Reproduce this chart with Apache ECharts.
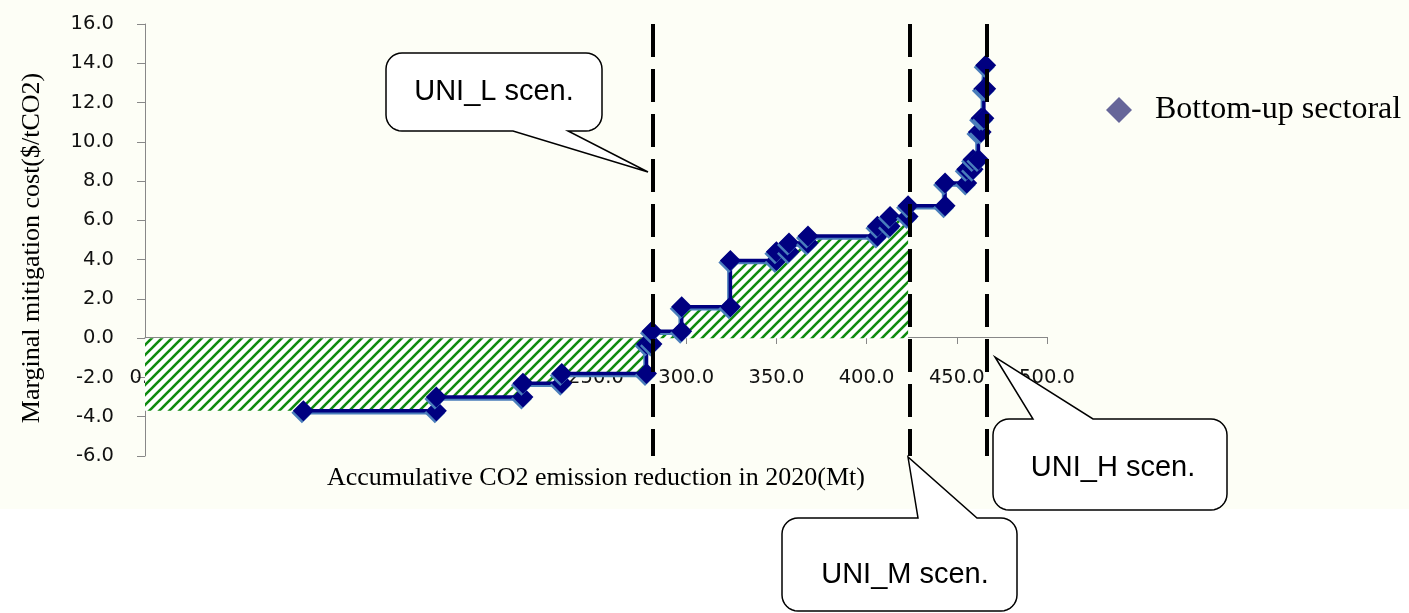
<!DOCTYPE html>
<html>
<head>
<meta charset="utf-8">
<script src="https://cdn.jsdelivr.net/npm/echarts@6/dist/echarts.min.js"></script>
<style>
html,body{margin:0;padding:0;background:#fff;}
#chart{width:1409px;height:613px;}
</style>
</head>
<body>
<div id="chart"></div>
<script>
// ---- data ----
const seriesName = 'Bottom-up sectoral';
// step curve vertices: [accumulative reduction (Mt), marginal cost ($/tCO2)]
const curvePoints = [
  [87.8,-3.7],[161.5,-3.7],[161.5,-3.0],[209.5,-3.0],[209.5,-2.3],[231,-2.3],
  [231,-1.8],[278,-1.8],[278,-0.3],[281,-0.3],[281,0.35],[297.5,0.35],
  [297.5,1.6],[324.5,1.6],[324.5,3.95],[350,3.95],[350,4.4],[357,4.4],
  [357,4.85],[367.5,4.85],[367.5,5.2],[406,5.2],[406,5.7],[413,5.7],
  [413,6.2],[423,6.2],[423,6.75],[443.5,6.75],[443.5,7.9],[455.5,7.9],
  [455.5,8.6],[459,8.6],[459,9.1],[462,9.1],[462,10.5],[463.5,10.5],
  [463.5,11.2],[465,11.2],[465,12.7],[466,12.7],[466,13.9]
];
// shaded (hatched) region: from the axis start up to the UNI_M scenario
const hatchStart = [[0,-3.7]];
const hatchCount = 26; // curve vertices up to x = 423
const scenarioNames = ['UNI_L scen.','UNI_M scen.','UNI_H scen.'];
const scenarioX = [281.2, 424.1, 466.8];
const scenarioYRange = [16, -6];
const xTicks = {min:0, max:500, interval:50};
const yTicks = {min:-6, max:16, interval:2};

// ---- hatch pattern ----
function makeHatch(){
  const c = document.createElement('canvas');
  c.width = 10; c.height = 10;
  const g = c.getContext('2d');
  g.fillStyle = '#ffffff'; g.fillRect(0,0,10,10);
  g.strokeStyle = '#0f8a0f'; g.lineWidth = 2.6;
  [[-10,10,10,-10],[0,10,10,0],[0,20,20,0]].forEach(function(l){
    g.beginPath(); g.moveTo(l[0],l[1]); g.lineTo(l[2],l[3]); g.stroke();
  });
  return c;
}

// outline of a rounded-rectangle speech bubble as a polygon
function arcPts(cx,cy,r,a0,a1){
  const pts=[]; const n=8;
  for(let i=0;i<=n;i++){ const a=a0+(a1-a0)*i/n; pts.push([cx+r*Math.cos(a), cy+r*Math.sin(a)]); }
  return pts;
}
function calloutPoints(x,y,w,h,r,side,b1,b2,tx,ty){
  const R=x+w, B=y+h, P=Math.PI; let pts=[];
  pts = pts.concat(arcPts(x+r,y+r,r,P,1.5*P));
  if(side==='top'){ pts.push([b1,y],[tx,ty],[b2,y]); }
  pts = pts.concat(arcPts(R-r,y+r,r,1.5*P,2*P));
  pts = pts.concat(arcPts(R-r,B-r,r,0,0.5*P));
  if(side==='bottom'){ pts.push([b2,B],[tx,ty],[b1,B]); }
  pts = pts.concat(arcPts(x+r,B-r,r,0.5*P,P));
  return pts;
}

const callouts = [
  {text: scenarioNames[0], pts: calloutPoints(386,53,216,78,16,'bottom',513,568,648,172), tx:494, ty:92},
  {text: scenarioNames[1], pts: calloutPoints(782,518,235,93,16,'top',918,977,908,457), tx:905, ty:575},
  {text: scenarioNames[2], pts: calloutPoints(993,419,234,91,16,'top',1033,1093,995,357), tx:1113, ty:468}
];

const graphics = [];
callouts.forEach(function(c){
  graphics.push({type:'polygon', z:100, shape:{points:c.pts},
    style:{fill:'#ffffff', stroke:'#000000', lineWidth:1.5}});
  graphics.push({type:'text', z:101, x:c.tx, y:c.ty,
    style:{text:c.text, fill:'#000', font:'29px "Liberation Sans", Arial, sans-serif', align:'center', verticalAlign:'middle'}});
});

const chart = echarts.init(document.getElementById('chart'), null, {renderer:'canvas'});
const cream = '#fdfef6';
const option = {
  animation:false,
  backgroundColor:{type:'linear',x:0,y:0,x2:0,y2:1,colorStops:[
    {offset:0,color:cream},{offset:509/613,color:cream},
    {offset:509/613,color:'#ffffff'},{offset:1,color:'#ffffff'}]},
  grid:{left:145, right:362, top:24, bottom:157, containLabel:false, outerBoundsMode:'none'},
  legend:{
    show:true, left:1101, top:89, orient:'vertical',
    itemWidth:26, itemHeight:26,
    data:[{name:seriesName, icon:'diamond', itemStyle:{color:'#666699', shadowBlur:0, shadowOffsetX:0, shadowOffsetY:0}}],
    textStyle:{fontFamily:'"Liberation Serif", "Times New Roman", serif', fontSize:32, color:'#000', padding:[0,0,0,18]}
  },
  xAxis:{
    type:'value', min:xTicks.min, max:xTicks.max, interval:xTicks.interval,
    offset:-119,
    name:'Accumulative CO2 emission reduction in 2020(Mt)', nameLocation:'middle', nameGap:128,
    nameTextStyle:{fontFamily:'"Liberation Serif", "Times New Roman", serif', fontSize:26, color:'#000'},
    axisLine:{show:true, onZero:false, lineStyle:{color:'#888', width:1}},
    axisTick:{show:true, length:7, lineStyle:{color:'#888'}},
    axisLabel:{margin:31, fontFamily:'"DejaVu Sans", sans-serif', fontSize:19.5, color:'#111',
      showMinLabel:true, showMaxLabel:true, formatter:function(v){return v.toFixed(1);}},
    splitLine:{show:false}
  },
  yAxis:{
    type:'value', min:yTicks.min, max:yTicks.max, interval:yTicks.interval,
    name:'Marginal mitigation cost($/tCO2)', nameLocation:'middle', nameGap:100,
    nameTextStyle:{fontFamily:'"Liberation Serif", "Times New Roman", serif', fontSize:26, color:'#000', padding:[0,16,0,0]},
    axisLine:{show:true, onZero:false, lineStyle:{color:'#888', width:1}},
    axisTick:{show:true, length:8, lineStyle:{color:'#888'}},
    axisLabel:{margin:31, fontFamily:'"DejaVu Sans", sans-serif', fontSize:19.5, color:'#111',
      formatter:function(v){return v.toFixed(1);}},
    splitLine:{show:false}
  },
  series:[
    {
      name:'hatch', type:'line', z:1, silent:true,
      data: hatchStart.concat(curvePoints.slice(0, hatchCount)),
      showSymbol:false, symbol:'none',
      lineStyle:{width:0, opacity:0},
      areaStyle:{color:{image:makeHatch(), repeat:'repeat'}, opacity:1},
      legendHoverLink:false
    },
    {
      name:seriesName, type:'line', z:3,
      data:curvePoints,
      symbol:'diamond', symbolSize:21, showSymbol:true,
      lineStyle:{color:'#000080', width:3.5, shadowColor:'#4a7ebb', shadowBlur:0, shadowOffsetX:-1.5, shadowOffsetY:2},
      itemStyle:{color:'#000080', shadowColor:'#4a7ebb', shadowBlur:0, shadowOffsetX:-1.5, shadowOffsetY:2}
    },
    {
      name:'scenarios', type:'line', z:4, silent:true,
      data:[], symbol:'none',
      markLine:{
        silent:true, symbol:['none','none'],
        label:{show:false},
        lineStyle:{color:'#000', width:4, type:[33,12]},
        data: scenarioX.map(function(x){ return [{coord:[x,scenarioYRange[0]]},{coord:[x,scenarioYRange[1]]}]; })
      }
    }
  ],
  graphic: graphics
};
chart.setOption(option);
</script>
</body>
</html>
